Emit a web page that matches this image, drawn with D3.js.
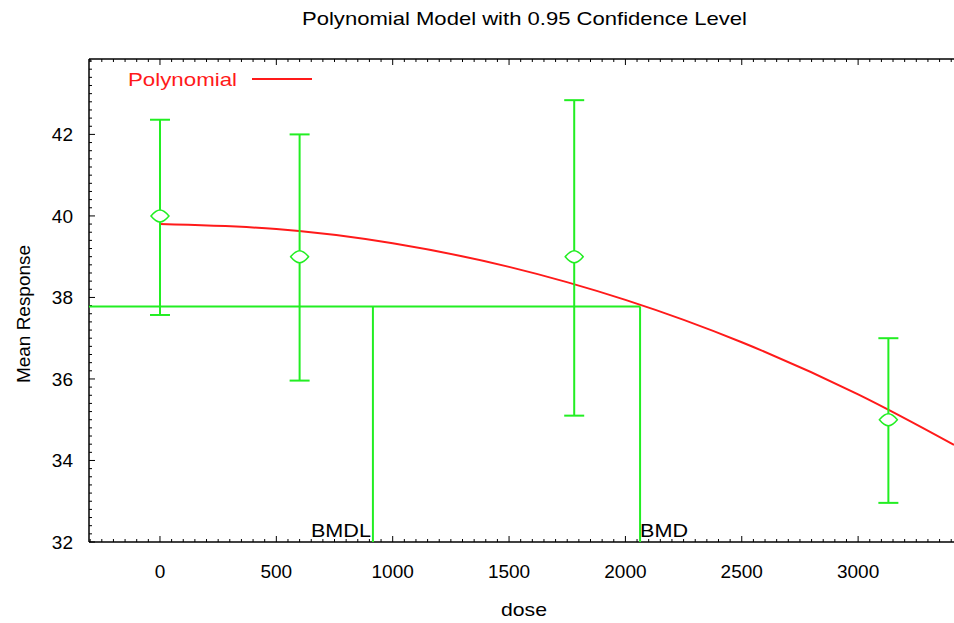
<!DOCTYPE html>
<html>
<head>
<meta charset="utf-8">
<script src="https://cdn.jsdelivr.net/npm/d3@7"></script>
<style>
  body { margin: 0; background: #fff; }
  svg { display: block; font-family: 'Liberation Sans', Arial, sans-serif; }
</style>
</head>
<body>
<div class="chart"></div>
<script>
// observed dose groups
var doses = [0, 600, 1780, 3130];
var means = [40.0, 39.0, 39.0, 35.0];
var upper = [42.36, 42.0, 42.84, 37.0];
var lower = [37.57, 35.96, 35.1, 32.96];

// fitted polynomial
var curve_dose = [0, 500, 1000, 1500, 2000, 2500, 3000, 3412];
var curve_resp = [39.80, 39.68, 39.33, 38.75, 37.94, 36.90, 35.62, 34.38];

var bmd = 2063, bmdl = 915, bmr_level = 37.78;

var x_ticks = [0, 500, 1000, 1500, 2000, 2500, 3000];
var y_ticks = [32, 34, 36, 38, 40, 42];

var W = 954, H = 623,
    green = '#22ee22', red = '#ff1a1a';

var svg = d3.select('.chart').append('svg')
  .attr('width', W).attr('height', H);

var x = d3.scaleLinear().domain([-305, 3412]).range([89, 954]),
    y = d3.scaleLinear().domain([32, 43.85]).range([542, 59]);

function fit(sel, len){
  sel.attr('textLength', len).attr('lengthAdjust', 'spacingAndGlyphs');
  return sel;
}

// title + axis titles
fit(svg.append('text').attr('x', 302).attr('y', 25)
  .style('font-size', '19px').text('Polynomial Model with 0.95 Confidence Level'), 445);
fit(svg.append('text').attr('x', 501).attr('y', 616)
  .style('font-size', '19px').text('dose'), 46);
fit(svg.append('text').attr('transform', 'translate(30,383) rotate(-90)')
  .style('font-size', '19px').text('Mean Response'), 138);

// frame: left, top, bottom
var frame = svg.append('g').attr('stroke', '#000').attr('stroke-width', 1.5);
frame.append('line').attr('x1', 89).attr('x2', 89).attr('y1', 59).attr('y2', 542);
frame.append('line').attr('x1', 89).attr('x2', W).attr('y1', 59).attr('y2', 59);
frame.append('line').attr('x1', 89).attr('x2', W).attr('y1', 542).attr('y2', 542);

// minor/major ticks pointing inwards
var xminor = d3.range(-300, 3412, 50), yminor = d3.range(32, 43.85, 0.2);
var tk = svg.append('g').attr('stroke', '#000').attr('stroke-width', 1);
xminor.forEach(function(d){
  var major = Math.abs(d % 500) < 1e-6, len = major ? 6 : 3;
  tk.append('line').attr('x1', x(d)).attr('x2', x(d)).attr('y1', 542).attr('y2', 542 - len);
  tk.append('line').attr('x1', x(d)).attr('x2', x(d)).attr('y1', 59).attr('y2', 59 + len);
});
yminor.forEach(function(d){
  var major = Math.abs(Math.round(d * 10) % 20) < 1e-6, len = major ? 6 : 3;
  tk.append('line').attr('x1', 89).attr('x2', 89 + len).attr('y1', y(d)).attr('y2', y(d));
});

svg.append('g').selectAll('text').data(x_ticks).enter().append('text')
  .attr('x', function(d){ return x(d); }).attr('y', 578)
  .attr('text-anchor', 'middle').style('font-size', '19px')
  .text(function(d){ return d; });
svg.append('g').selectAll('text').data(y_ticks).enter().append('text')
  .attr('x', 73).attr('y', function(d){ return y(d) + 7; })
  .attr('text-anchor', 'end').style('font-size', '19px')
  .text(function(d){ return d; });

// BMD / BMDL lines
var bm = svg.append('g').attr('stroke', green).attr('stroke-width', 2).attr('fill', 'none');
bm.append('line').attr('x1', 89).attr('x2', x(bmd)).attr('y1', y(bmr_level)).attr('y2', y(bmr_level));
bm.append('line').attr('x1', x(bmdl)).attr('x2', x(bmdl)).attr('y1', y(bmr_level)).attr('y2', 542);
bm.append('line').attr('x1', x(bmd)).attr('x2', x(bmd)).attr('y1', y(bmr_level)).attr('y2', 542);

fit(svg.append('text').attr('x', x(bmdl) - 2).attr('y', 537)
  .attr('text-anchor', 'end').style('font-size', '19px').text('BMDL'), 60);
fit(svg.append('text').attr('x', x(bmd)).attr('y', 537)
  .style('font-size', '19px').text('BMD'), 48);

// fitted curve
var line = d3.line()
  .x(function(d){ return x(d[0]); })
  .y(function(d){ return y(d[1]); })
  .curve(d3.curveNatural);
svg.append('path')
  .datum(d3.zip(curve_dose, curve_resp))
  .attr('d', line)
  .attr('fill', 'none').attr('stroke', red).attr('stroke-width', 2);

// error bars and means
var groups = svg.append('g').selectAll('g')
  .data(doses.map(function(d, i){ return { dose: d, mean: means[i], lo: lower[i], hi: upper[i] }; }))
  .enter().append('g')
  .attr('stroke', green).attr('stroke-width', 2).attr('fill', 'none');

groups.append('line')
  .attr('x1', function(d){ return x(d.dose); }).attr('x2', function(d){ return x(d.dose); })
  .attr('y1', function(d){ return y(d.lo); }).attr('y2', function(d){ return y(d.hi); });
groups.append('line')
  .attr('x1', function(d){ return x(d.dose) - 10; }).attr('x2', function(d){ return x(d.dose) + 10; })
  .attr('y1', function(d){ return y(d.hi); }).attr('y2', function(d){ return y(d.hi); });
groups.append('line')
  .attr('x1', function(d){ return x(d.dose) - 10; }).attr('x2', function(d){ return x(d.dose) + 10; })
  .attr('y1', function(d){ return y(d.lo); }).attr('y2', function(d){ return y(d.lo); });
groups.append('path')
  .attr('transform', function(d){ return 'translate(' + x(d.dose) + ',' + y(d.mean) + ')'; })
  .attr('d', 'M-9,0Q-4,-6 0,-6Q4,-6 9,0Q4,6 0,6Q-4,6 -9,0Z')
  .attr('fill', '#fff').attr('stroke-width', 1.5);

// legend
fit(svg.append('text').attr('x', 128).attr('y', 86)
  .attr('fill', red).style('font-size', '19px').text('Polynomial'), 109);
svg.append('line').attr('x1', 252).attr('x2', 312).attr('y1', 79).attr('y2', 79)
  .attr('stroke', red).attr('stroke-width', 2);
</script>
</body>
</html>
